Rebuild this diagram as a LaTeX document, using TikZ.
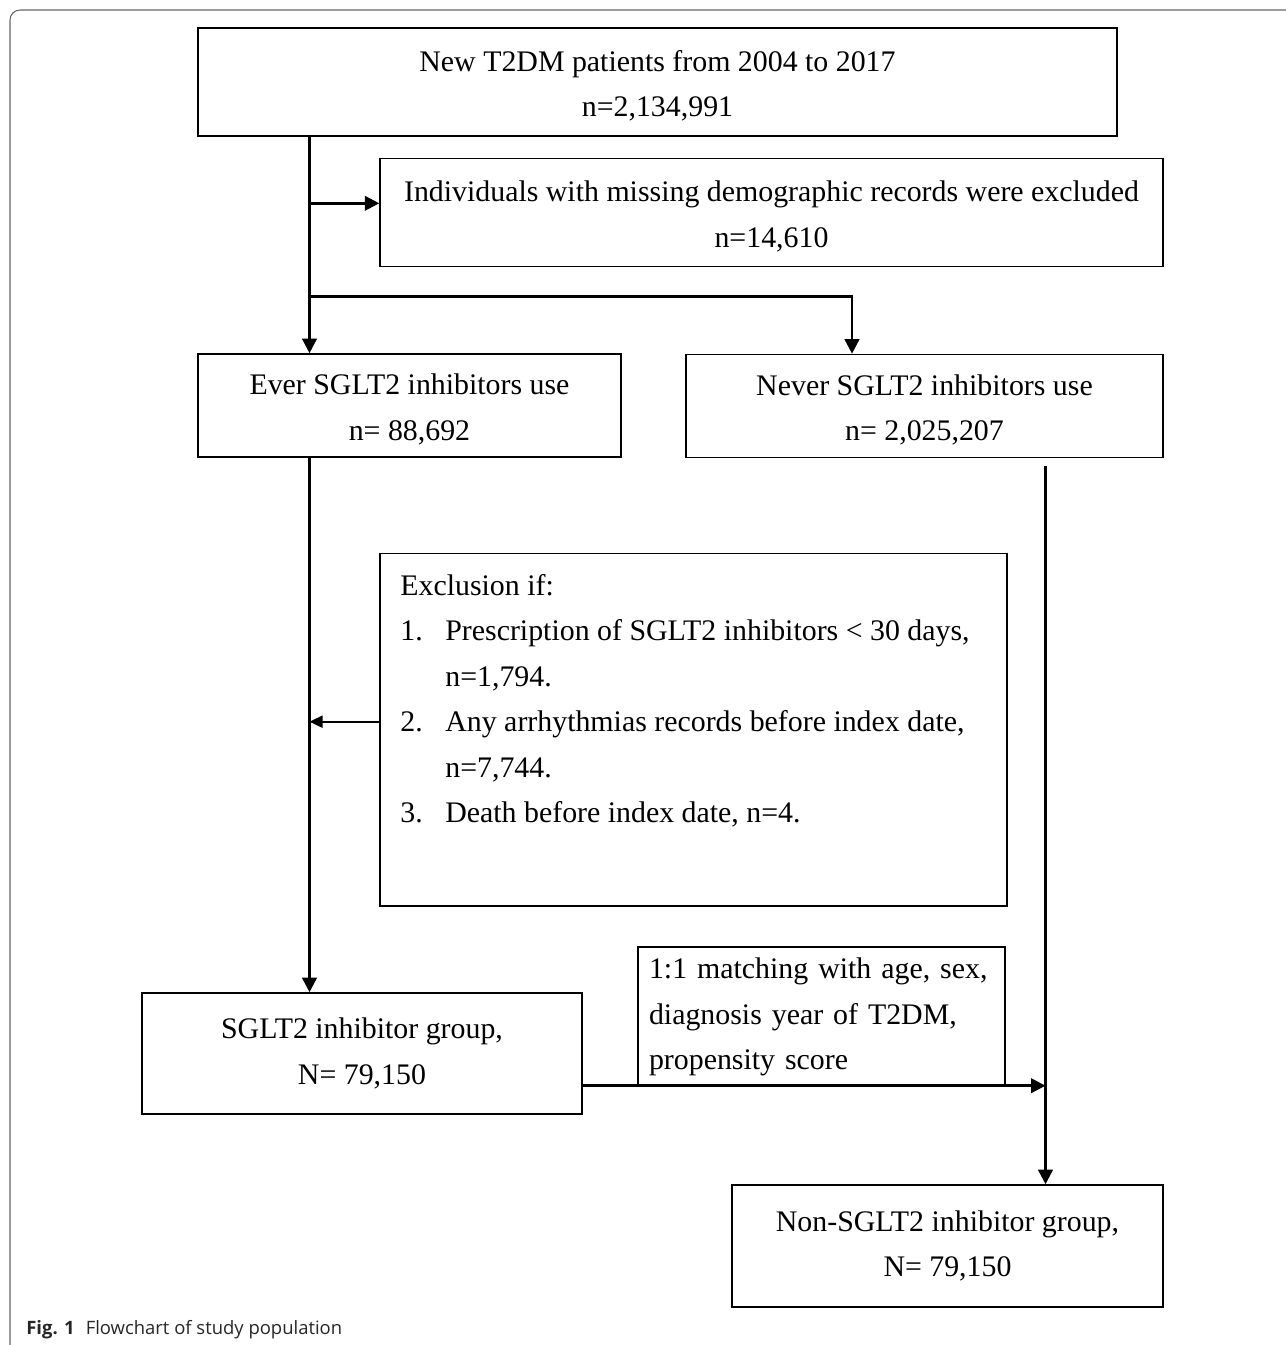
\documentclass[tikz,border=0pt]{standalone}
\usepackage{fontspec}
\setmainfont{Liberation Serif}
\newfontfamily\capfont{Open Sans}
\usetikzlibrary{arrows.meta}
\def\trunkx{309.5}
\def\rightx{1045.5}
\def\flowfont{\fontsize{17}{25.9}\selectfont}
\def\topstrut{\rule{0pt}{0.58cm}}
\def\tiplen{0.29cm}
\tikzset{
  box/.style={draw, line width=0.9pt, inner sep=0pt, align=center, font=\flowfont},
  conn/.style={line width=1.4pt, -{Triangle[length=\tiplen,width=\tiplen]}},
  thinconn/.style={line width=1pt, -{Triangle[length=0.26cm,width=0.24cm]}},
  frame/.style={draw=black!60, line width=0.6pt, rounded corners=0.2cm}
}

\begin{document}
\begin{tikzpicture}[x=0.02cm,y=-0.02cm]
\useasboundingbox (0,0) rectangle (1285,1345);

% Outer frame
\draw[frame] (10,1360) -- (10,10) -- (1300,10);

% Boxes
\node[box, minimum width=18.38cm, minimum height=2.15cm] (new) at (657.5,82) {\topstrut New T2DM patients from 2004 to 2017\\n=2,134,991};
\node[box, minimum width=15.66cm, minimum height=2.16cm] (missing) at (771.5,212.5) {\topstrut Individuals with missing demographic records were excluded\\n=14,610};
\node[box, minimum width=8.46cm, minimum height=2.06cm] (ever) at (409.5,405.5) {\topstrut Ever SGLT2 inhibitors use\\n= 88,692};
\node[box, minimum width=9.54cm, minimum height=2.06cm] (never) at (924.5,406) {\topstrut Never SGLT2 inhibitors use\\n= 2,025,207};
\node[box, minimum width=12.54cm, minimum height=7.05cm] (exclbox) at (693.5,729.5) {};
\node[anchor=north west, inner sep=0pt, font=\flowfont] (excltext) at (400,563) {%
\begin{tabular}{@{}p{0.9cm}@{}l@{}}
\multicolumn{2}{@{}l}{Exclusion if:}\\
1. & Prescription of SGLT2 inhibitors < 30 days,\\
   & n=1,794.\\
2. & Any arrhythmias records before index date,\\
   & n=7,744.\\
3. & Death before index date, n=4.
\end{tabular}};
\node[box, minimum width=8.8cm, minimum height=2.42cm] (sglt) at (362,1053.5) {SGLT2 inhibitor group,\\N= 79,150};
\node[box, draw=none, align=left, text width=6.9cm, inner xsep=0.2cm, minimum height=2.76cm] (match) at (821.5,1017) {1:1 matching with age, sex,\\diagnosis year of T2DM,\\propensity score};
\draw[line width=1.1pt] (match.south west) -- (match.north west) -- (match.north east) -- (match.south east); % open box
\node[box, minimum width=8.62cm, minimum height=2.44cm] (non) at (947.5,1246) {Non-SGLT2 inhibitor group,\\N= 79,150};

% Connectors
\coordinate (split1) at (\trunkx,203.3);
\coordinate (split2) at (\trunkx,296.7);
\coordinate (split3) at (\trunkx,721.7);
\coordinate (neverin) at (852,296.7);
\coordinate (righttop) at (\rightx,466);
\coordinate (merge) at (\rightx,1085.7);

\draw[conn] (new.south -| split1) -- (ever.north -| split1); % trunk
\draw[conn] (split1) -- (split1 -| missing.west);
\draw[conn] (split2) -- (neverin) -- (never.north -| neverin);
\draw[conn] (ever.south -| split3) -- (sglt.north -| split3);
\draw[thinconn] (split3 -| exclbox.west) -- (split3);
\draw[conn] (righttop) -- (non.north -| righttop);
\draw[conn] (merge -| sglt.east) -- (merge);

% Caption
\node[anchor=west, inner sep=0pt, text=black!85, font=\capfont\fontsize{10.5}{12}\selectfont] (caption) at (26,1330) {\textbf{Fig. 1}\hspace{0.6em}Flowchart of study population};

\end{tikzpicture}
\end{document}
